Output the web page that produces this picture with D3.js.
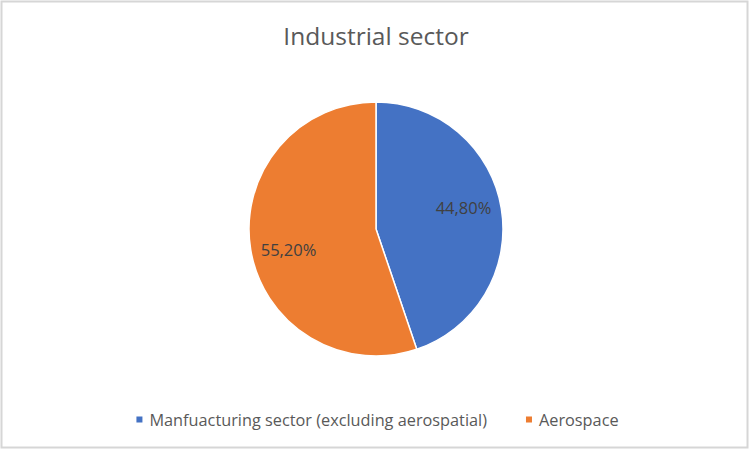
<!doctype html>
<html lang="en">
  <head>
    <meta charset="utf-8">
    <title>Industrial sector</title>
    <style>
      body { margin: 0; background: #fff; }
      text { font-family: "Open Sans", sans-serif; }
    </style>
  </head>
  <body>
    <div id="chart"></div>

    <script src="https://d3js.org/d3.v7.min.js"></script>
    <script>
      // Data
      var categories = ["Manfuacturing sector (excluding aerospatial)", "Aerospace"];
      var shares = [44.8, 55.2];
      var shareLabels = ["44,80%", "55,20%"];
      var colors = ["#4472C4", "#ED7D31"];

      // Set params
      var width = 750,
          height = 451,
          cx = 376,
          cy = 229,
          radius = 127;

      var svg = d3.select("#chart")
        .append("svg")
        .attr("width", width)
        .attr("height", height);

      // Frame
      svg.append("rect")
        .attr("x", 1.5)
        .attr("y", 1.5)
        .attr("width", width - 4)
        .attr("height", height - 5)
        .attr("fill", "#fff")
        .attr("stroke", "#d6d6d6")
        .attr("stroke-width", 2);

      // Title
      svg.append("text")
        .attr("x", cx)
        .attr("y", 44.5)
        .attr("text-anchor", "middle")
        .attr("font-size", "24.5px")
        .attr("fill", "#595959")
        .text("Industrial sector");

      var data = categories.map(function(c, i) {
        return {name: c, value: shares[i], label: shareLabels[i], color: colors[i]};
      });

      var pie = d3.pie()
        .sort(null)
        .value(function(d) { return d.value; });

      var arc = d3.arc()
        .innerRadius(0)
        .outerRadius(radius);

      var labelArc = d3.arc()
        .innerRadius(90)
        .outerRadius(90);

      var g = svg.append("g")
        .attr("transform", "translate(" + cx + "," + cy + ")");

      var slices = pie(data);

      g.selectAll("path")
        .data(slices)
        .enter()
        .append("path")
        .attr("d", arc)
        .attr("fill", function(d) { return d.data.color; })
        .attr("stroke", "#fff")
        .attr("stroke-width", 1.5);

      // Data labels (best fit, a bit above the mid angle)
      g.selectAll("text.lbl")
        .data(slices)
        .enter()
        .append("text")
        .attr("class", "lbl")
        .attr("transform", function(d) {
          var shifted = {startAngle: d.startAngle - 0.075, endAngle: d.endAngle - 0.075};
          var c = labelArc.centroid(shifted);
          return "translate(" + c[0] + "," + c[1] + ")";
        })
        .attr("dy", "0.36em")
        .attr("text-anchor", "middle")
        .attr("font-size", "16.5px")
        .attr("fill", "#404040")
        .text(function(d) { return d.data.label; });

      // Legend
      var legend = svg.append("g");
      var items = legend.selectAll("g")
        .data(data)
        .enter()
        .append("g");

      items.append("rect")
        .attr("width", 6)
        .attr("height", 6)
        .attr("y", -9.5)
        .attr("fill", function(d) { return d.color; });

      items.append("text")
        .attr("x", 13)
        .attr("font-size", "16.3px")
        .attr("fill", "#595959")
        .text(function(d) { return d.name; });

      var xpos = 0, offsets = [];
      items.each(function(d, i) {
        offsets.push(xpos);
        xpos += 13 + this.querySelector("text").getComputedTextLength() + 39;
      });
      var total = xpos - 39;
      var startX = 377.5 - total / 2;
      items.attr("transform", function(d, i) {
        return "translate(" + (startX + offsets[i]) + ",426)";
      });
    </script>
  </body>
</html>
